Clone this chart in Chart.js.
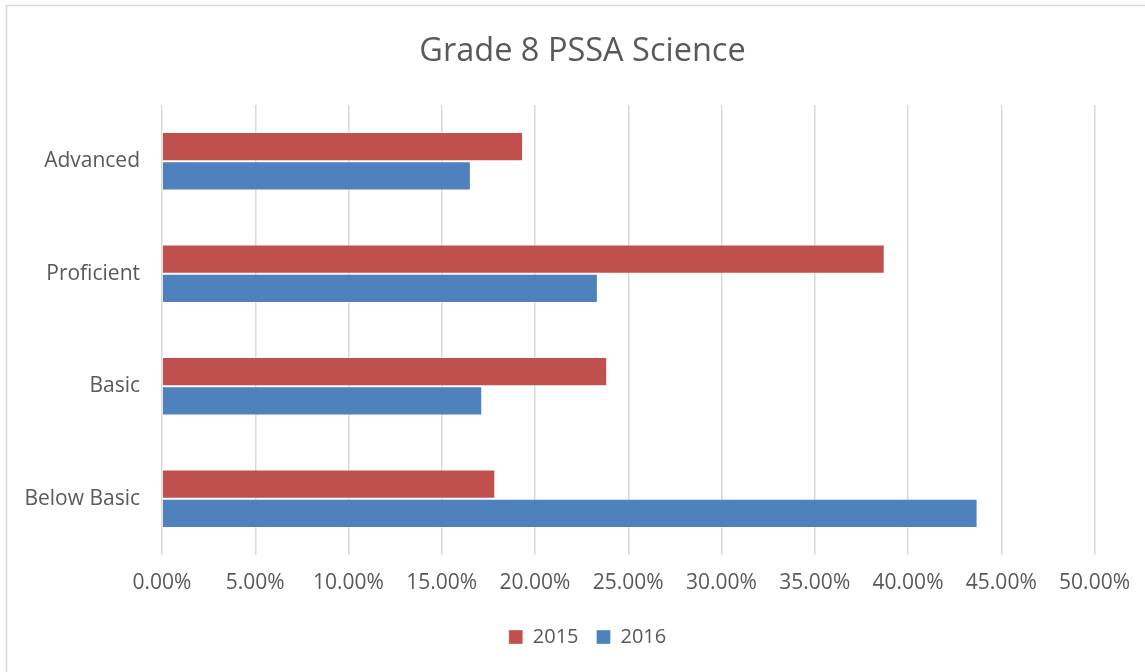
<!DOCTYPE html>
<html>
<head>
<meta charset="utf-8">
<script src="https://cdn.jsdelivr.net/npm/chart.js@4.4.1/dist/chart.umd.min.js"></script>
<style>
  html, body { margin: 0; padding: 0; background: #fff; }
  #wrap { width: 1145px; height: 672px; position: relative; }
</style>
</head>
<body>
<div id="wrap"><canvas id="chart" width="1145" height="672"></canvas></div>
<script>
// Chart data
const categories = ['Advanced', 'Proficient', 'Basic', 'Below Basic'];
const values2015 = [19.36, 38.75, 23.87, 17.87];
const values2016 = [16.56, 23.37, 17.17, 43.73];
const seriesNames = ['2015', '2016'];

const textColor = '#595959';
const gridColor = '#D9D9D9';
const fontFamily = "'Open Sans', 'Liberation Sans', sans-serif";

// Light frame round the chart, like the spreadsheet export
const framePlugin = {
    id: 'frame',
    beforeDraw(chart) {
        const ctx = chart.ctx;
        ctx.save();
        ctx.fillStyle = '#fff';
        ctx.fillRect(0, 0, chart.width, chart.height);
        ctx.strokeStyle = gridColor;
        ctx.lineWidth = 1.5;
        ctx.beginPath();
        ctx.moveTo(6.5, chart.height);
        ctx.lineTo(6.5, 5.5);
        ctx.lineTo(chart.width, 5.5);
        ctx.stroke();
        ctx.restore();
    }
};

// Title and legend sit a bit right of where Chart.js centres them
const shiftBlocks = {
    id: 'shiftBlocks',
    afterLayout(chart) {
        const lg = chart.legend;
        if (lg) { lg.left += 40; lg.right += 40; }
        const tt = chart.titleBlock;
        if (tt) { tt.left += 35; tt.right += 35; }
    }
};

new Chart(document.getElementById('chart'), {
    type: 'bar',
    data: {
        labels: categories,
        datasets: [{
            label: seriesNames[0],
            data: values2015,
            backgroundColor: '#C0504D',
            borderColor: 'rgba(255,255,255,0.35)',
            borderWidth: 1,
            categoryPercentage: 0.52,
            barPercentage: 1.0
        }, {
            label: seriesNames[1],
            data: values2016,
            backgroundColor: '#4F81BD',
            borderColor: 'rgba(255,255,255,0.35)',
            borderWidth: 1,
            categoryPercentage: 0.52,
            barPercentage: 1.0
        }]
    },
    options: {
        indexAxis: 'y',
        responsive: false,
        animation: false,
        layout: {
            padding: { left: 0, right: 50, top: 0, bottom: 15 }
        },
        scales: {
            x: {
                min: 0,
                max: 50,
                ticks: {
                    stepSize: 5,
                    color: textColor,
                    font: { family: fontFamily, size: 21 },
                    padding: 15,
                    callback: v => v.toFixed(2) + '%'
                },
                grid: {
                    color: gridColor,
                    lineWidth: 1.5,
                    drawTicks: false
                },
                border: { display: false },
                afterFit(scale) { scale.height = 54; }
            },
            y: {
                ticks: {
                    color: textColor,
                    font: { family: fontFamily, size: 21 },
                    padding: 22
                },
                grid: { display: false, drawTicks: false },
                border: { display: false },
                afterFit(scale) { scale.width = 162; }
            }
        },
        plugins: {
            title: {
                display: true,
                text: 'Grade 8 PSSA Science',
                color: textColor,
                font: { family: fontFamily, size: 32.5, weight: 'normal' },
                padding: { top: 32, bottom: 34 }
            },
            legend: {
                position: 'bottom',
                labels: {
                    color: textColor,
                    font: { family: fontFamily, size: 20 },
                    boxWidth: 14,
                    boxHeight: 14,
                    padding: 18
                }
            },
            tooltip: { enabled: false }
        }
    },
    plugins: [framePlugin, shiftBlocks]
});
</script>
</body>
</html>
